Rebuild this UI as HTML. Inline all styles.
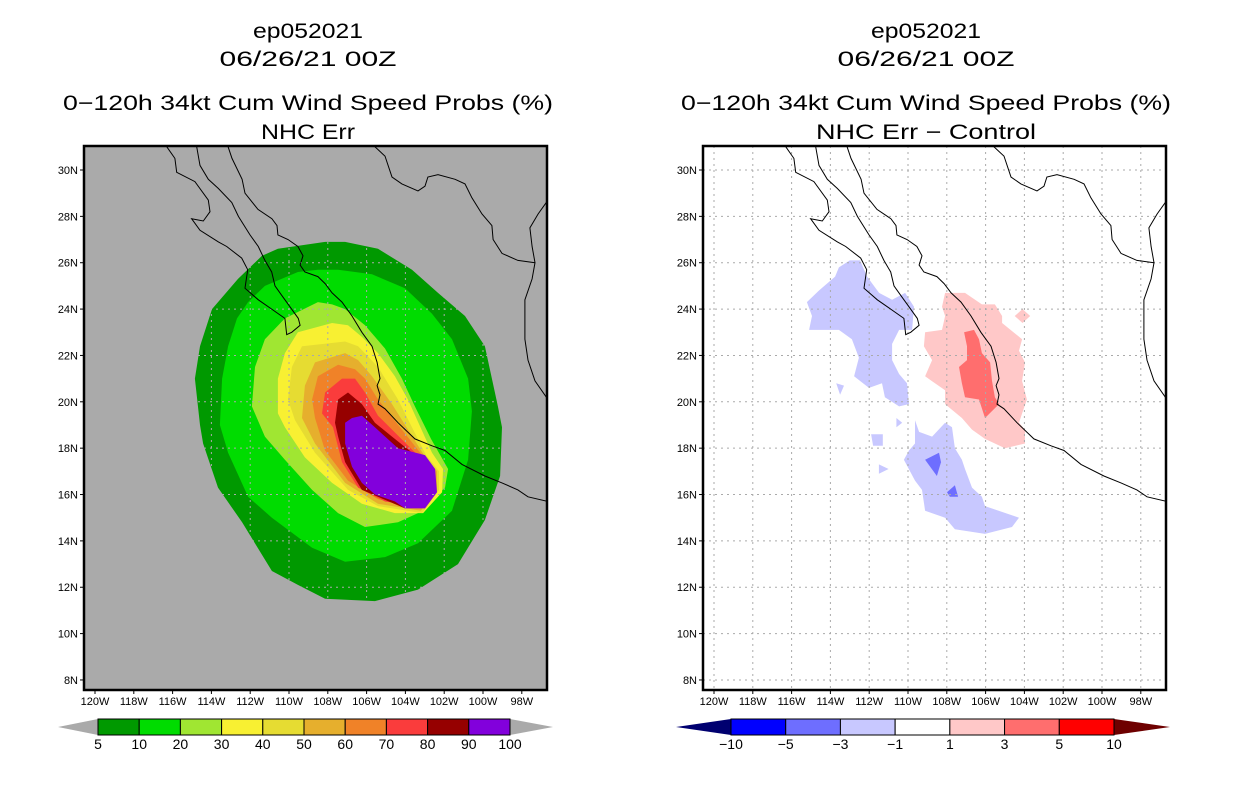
<!DOCTYPE html>
<html><head><meta charset="utf-8"><style>
html,body{margin:0;padding:0;background:#fff;}
svg{display:block;font-family:"Liberation Sans",sans-serif;}
</style></head>
<body>
<svg id="root" width="1236" height="800" viewBox="0 0 1236 800" xmlns="http://www.w3.org/2000/svg"></svg>
<script>
// ---------- data ----------
const lonTicks = [-120,-118,-116,-114,-112,-110,-108,-106,-104,-102,-100,-98];
const latTicks = [8,10,12,14,16,18,20,22,24,26,28,30];
const probLevels = [5,10,20,30,40,50,60,70,80,90,100];
const probColors = ['#009900','#00dc00','#a0e632','#f8f032','#e6dc32','#e6af2d','#f08228','#fa3c3c','#960000','#8200dc'];
const diffLevels = [-10,-5,-3,-1,1,3,5,10];
const diffColors = ['#0000ff','#6e6eff','#c8c8ff','#ffffff','#ffc8c8','#ff6e6e','#ff0000'];
const p5 = [[-108.14,26.9],[-110.57,26.6],[-111.39,26.3],[-112.63,25.3],[-113.97,24.0],[-114.59,22.4],[-114.85,21.0],[-114.59,19.0],[-114.43,18.2],[-113.66,16.3],[-112.42,14.8],[-110.88,12.7],[-109.54,12.1],[-108.14,11.5],[-105.57,11.4],[-103.35,11.9],[-101.29,13.0],[-99.90,14.9],[-99.12,16.8],[-99.02,18.9],[-99.23,19.8],[-99.90,22.4],[-100.93,23.7],[-102.32,24.7],[-103.66,25.7],[-105.41,26.6],[-107.11,26.9]];
const p10 = [[-108.51,25.7],[-109.54,25.6],[-111.24,25.0],[-112.11,24.3],[-112.68,23.6],[-113.14,22.4],[-113.45,21.0],[-113.56,19.0],[-113.14,17.8],[-112.11,15.9],[-110.88,15.0],[-108.81,13.7],[-107.11,13.1],[-105.05,13.3],[-103.35,13.9],[-101.60,15.3],[-100.77,17.5],[-100.57,19.6],[-100.77,21.0],[-101.60,22.7],[-102.63,23.8],[-104.02,24.9],[-105.72,25.5],[-107.47,25.7]];
const p20 = [[-108.51,24.3],[-110.21,23.6],[-111.24,22.7],[-111.75,21.5],[-111.91,19.8],[-111.24,18.5],[-110.21,17.5],[-108.81,16.2],[-107.47,15.2],[-106.08,14.6],[-104.38,14.8],[-103.35,15.2],[-101.96,16.3],[-101.80,17.1],[-102.68,18.4],[-103.51,19.8],[-104.18,21.0],[-105.05,22.3],[-106.08,23.3],[-107.11,24.0],[-107.78,24.2]];
const p30 = [[-107.78,23.4],[-109.54,23.0],[-110.21,22.1],[-110.57,21.0],[-110.57,19.5],[-110.21,18.9],[-109.18,17.6],[-107.78,16.5],[-106.24,15.6],[-104.54,15.2],[-103.09,15.2],[-102.11,16.1],[-102.06,17.1],[-102.63,17.8],[-103.87,20.1],[-104.54,21.1],[-105.41,22.1],[-106.24,22.8],[-106.96,23.3]];
const p40 = [[-107.11,22.6],[-109.33,22.4],[-109.85,21.5],[-110.05,20.1],[-109.69,19.2],[-108.66,17.8],[-106.96,16.2],[-105.41,15.5],[-103.14,15.2],[-102.27,16.2],[-102.27,17.0],[-102.94,17.7],[-104.38,20.1],[-105.41,21.5],[-106.44,22.4]];
const p50 = [[-107.11,22.1],[-108.66,21.7],[-109.18,20.7],[-109.33,19.3],[-108.66,18.2],[-107.11,16.5],[-105.41,15.6],[-103.20,15.3],[-102.37,16.2],[-102.37,17.0],[-103.04,17.7],[-104.69,19.9],[-105.72,21.1],[-106.44,21.8]];
const p60 = [[-107.47,21.6],[-108.51,21.1],[-108.81,20.1],[-108.66,19.3],[-108.14,17.9],[-106.96,16.6],[-105.41,15.8],[-103.25,15.4],[-102.47,16.2],[-102.47,16.9],[-103.14,17.7],[-105.41,20.1],[-106.08,21.0],[-106.60,21.4]];
const p70 = [[-107.27,21.0],[-108.14,20.4],[-108.30,19.5],[-107.73,18.9],[-107.27,17.4],[-106.44,16.3],[-105.05,15.7],[-103.40,15.5],[-102.58,16.2],[-102.58,16.9],[-103.25,17.6],[-105.41,19.4],[-106.08,20.4],[-106.60,21.0]];
const p80 = [[-106.96,20.4],[-107.47,20.1],[-107.63,19.1],[-107.47,18.5],[-107.11,17.4],[-106.24,16.2],[-104.02,15.4],[-103.51,15.6],[-102.68,16.3],[-102.68,16.9],[-103.35,17.6],[-104.69,18.5],[-105.57,19.1],[-106.24,19.9]];
const p90 = [[-106.75,19.3],[-106.24,19.4],[-105.57,18.9],[-104.38,18.0],[-102.99,17.7],[-102.47,17.1],[-102.37,16.1],[-102.99,15.4],[-104.02,15.4],[-104.54,15.7],[-105.57,16.0],[-106.24,16.5],[-106.75,17.2],[-107.11,18.2],[-107.11,19.1]];
const probContours = [p5,p10,p20,p30,p40,p50,p60,p70,p80,p90];
const dNegA = [[-113.0,26.1],[-112.47,26.1],[-112.11,25.4],[-111.49,24.7],[-110.82,24.4],[-110.15,24.7],[-109.69,24.1],[-109.79,23.1],[-110.46,23.1],[-110.82,22.5],[-110.82,21.8],[-110.46,21.2],[-110.05,20.8],[-109.95,19.9],[-110.46,19.8],[-111.19,20.2],[-111.34,20.8],[-112.01,20.6],[-112.78,21.1],[-112.53,21.9],[-112.89,22.7],[-113.56,23.1],[-114.59,23.1],[-115.10,23.1],[-114.95,23.7],[-115.21,24.3],[-114.59,24.8],[-113.76,25.4],[-113.56,25.8]];
const dNegB = [[-109.64,19.2],[-109.43,18.7],[-108.76,18.5],[-108.09,19.1],[-107.73,18.9],[-107.58,18.0],[-107.22,17.5],[-107.06,17.1],[-106.70,16.3],[-106.19,15.9],[-106.03,15.5],[-104.28,15.0],[-104.64,14.6],[-106.03,14.3],[-107.58,14.5],[-108.09,15.0],[-109.12,15.3],[-109.28,16.2],[-109.64,16.6],[-110.21,17.5],[-109.95,17.9],[-109.64,18.2]];
const dNegC = [[-113.7,20.8],[-113.3,20.7],[-113.5,20.3]];
const dNegD = [[-111.9,18.6],[-111.3,18.6],[-111.3,18.1],[-111.8,18.1]];
const dNegE = [[-111.5,17.3],[-111.0,17.1],[-111.5,16.9]];
const dNegF = [[-110.6,19.3],[-110.3,19.1],[-110.6,18.9]];
const dNeg5A = [[-109.12,17.5],[-108.40,17.8],[-108.30,17.4],[-108.51,16.8]];
const dNeg5B = [[-107.99,16.1],[-107.58,16.4],[-107.42,15.9],[-107.84,15.9]];
const dPosA = [[-108.09,24.7],[-107.06,24.7],[-106.19,24.2],[-105.52,24.2],[-105.15,23.7],[-105.15,23.4],[-104.12,22.7],[-104.28,22.2],[-103.97,21.7],[-104.12,20.9],[-103.87,20.1],[-104.12,19.5],[-104.28,19.1],[-103.97,18.8],[-103.97,18.2],[-105.0,18.0],[-106.03,18.4],[-106.70,18.8],[-107.22,19.3],[-108.09,19.9],[-108.09,20.5],[-108.61,20.8],[-109.12,21.1],[-108.76,21.8],[-109.18,22.4],[-109.12,23.0],[-108.25,23.1],[-108.09,23.7],[-108.25,24.1]];
const dPosB = [[-104.1,24.0],[-103.7,23.7],[-104.1,23.4],[-104.5,23.7]];
const dPos3 = [[-107.11,23.0],[-106.60,23.1],[-106.34,22.7],[-106.19,22.1],[-105.77,21.7],[-105.67,20.9],[-105.52,20.2],[-105.31,19.9],[-106.03,19.3],[-106.34,20.1],[-107.06,20.2],[-107.22,20.8],[-107.37,21.5],[-106.96,21.8],[-106.96,22.4]];
const coastMainland = [[-113.14,31.0],[-112.94,30.5],[-112.42,29.6],[-112.27,29.0],[-111.60,28.3],[-110.88,27.9],[-110.62,27.6],[-110.57,27.2],[-110.05,27.0],[-109.54,26.7],[-109.28,26.3],[-109.43,25.9],[-109.18,25.6],[-108.51,25.4],[-108.14,25.1],[-107.78,24.7],[-107.27,24.3],[-106.75,23.7],[-106.24,23.0],[-105.72,22.4],[-105.46,21.7],[-105.31,21.0],[-105.46,20.7],[-105.31,20.3],[-105.41,19.9],[-105.05,19.7],[-104.38,19.1],[-103.51,18.4],[-102.63,18.1],[-101.96,17.9],[-101.08,17.3],[-99.90,16.8],[-99.02,16.5],[-98.20,16.2],[-97.68,15.9],[-96.65,15.7]];
const coastBaja = [[-116.30,31.0],[-115.88,30.5],[-115.79,29.9],[-114.85,29.5],[-114.16,28.7],[-114.07,28.2],[-114.42,27.8],[-115.02,27.9],[-114.59,27.4],[-113.64,26.9],[-113.21,26.7],[-112.44,26.2],[-112.13,25.7],[-112.27,24.9],[-111.58,24.4],[-110.89,24.0],[-110.21,23.6],[-110.12,22.9],[-109.86,23.0],[-109.43,23.3],[-109.52,23.6],[-109.95,24.1],[-110.38,24.6],[-110.72,25.0],[-110.89,25.6],[-111.24,26.1],[-111.58,26.7],[-112.01,27.2],[-112.61,28.0],[-112.95,28.6],[-113.64,29.2],[-114.16,29.6],[-114.59,30.2],[-114.76,31.0]];
const coastBorder = [[-105.57,31.0],[-105.05,30.6],[-104.69,29.7],[-104.18,29.4],[-103.35,29.1],[-102.99,29.3],[-102.84,29.7],[-102.32,29.8],[-101.44,29.6],[-100.93,29.4],[-100.57,28.8],[-100.05,28.1],[-99.54,27.6],[-99.48,27.0],[-99.02,26.4],[-98.20,26.1],[-97.32,26.0]];
const coastGulf = [[-96.65,28.7],[-97.16,28.1],[-97.58,27.5],[-97.47,26.7],[-97.32,26.0],[-97.47,25.3],[-97.84,24.4],[-97.84,22.7],[-97.68,21.8],[-97.32,20.9],[-96.65,20.1]];
const coastlines = [coastMainland, coastBaja, coastBorder, coastGulf];

// ---------- helpers ----------
const NS='http://www.w3.org/2000/svg';
const root=document.getElementById('root');
function mk(tag,attrs,parent){const e=document.createElementNS(NS,tag);for(const k in attrs)e.setAttribute(k,attrs[k]);(parent||root).appendChild(e);return e;}
const PW=463, PH=544, PT=146;
function xScale(left,lon){return left+11+(lon+120)*19.4;}
function yScale(lat){return 170+(30-lat)*23.18;}
function pts(left,poly){return poly.map(p=>xScale(left,p[0]).toFixed(1)+','+yScale(p[1]).toFixed(1)).join(' ');}

function panel(left,bg,name){
  const g=mk('g',{});
  
  
  const cid='clip'+left;
  const cp=mk('clipPath',{id:cid},g);
  mk('rect',{x:left,y:PT,width:PW,height:PH},cp);
  const bgR=mk('rect',{x:left,y:PT,width:PW,height:PH,fill:bg},g);
  
  
  const inner=mk('g',{'clip-path':'url(#'+cid+')'},g);
  return {g,inner};
}
function drawGrid(left,inner,col){
  lonTicks.forEach(lon=>{const l=mk('line',{x1:xScale(left,lon),x2:xScale(left,lon),y1:PT,y2:PT+PH,stroke:col,'stroke-width':1,'stroke-dasharray':'2,4'},inner);
    
    });
  latTicks.forEach(lat=>{const l=mk('line',{x1:left,x2:left+PW,y1:yScale(lat),y2:yScale(lat),stroke:col,'stroke-width':1,'stroke-dasharray':'2,4'},inner);
    
    });
}
function drawCoast(left,inner){
  coastlines.forEach(c=>{const p=mk('polyline',{points:pts(left,c),fill:'none',stroke:'#000','stroke-width':1},inner);
    
    });
}
function drawAxes(g,left){
  const b=mk('rect',{x:left,y:PT,width:PW,height:PH,fill:'none',stroke:'#000','stroke-width':2.5},g);
  
  
  lonTicks.forEach(lon=>{const x=xScale(left,lon);
    mk('line',{x1:x,x2:x,y1:PT+PH,y2:PT+PH+4,stroke:'#000'},g);
    const t=mk('text',{x:x,y:PT+PH+15,'font-size':11,'text-anchor':'middle',fill:'#000'},g);
    t.textContent=(-lon)+'W';
    
    });
  latTicks.forEach(lat=>{const y=yScale(lat);
    mk('line',{x1:left-4,x2:left,y1:y,y2:y,stroke:'#000'},g);
    const t=mk('text',{x:left-6,y:y+4,'font-size':11,'text-anchor':'end',fill:'#000'},g);
    t.textContent=lat+'N';
    
    });
}
function titles(cx,lines,ws){
  const ys=[38,66,110,139];
  lines.forEach((s,i)=>{const a={x:cx,y:ys[i],'font-size':21,'text-anchor':'middle',fill:'#000',textLength:ws[i],lengthAdjust:'spacingAndGlyphs'};
    const t=mk('text',a);t.textContent=s;
    
    });
}

// ---------- left panel ----------
titles(308,['ep052021','06/26/21 00Z','0\u2212120h 34kt Cum Wind Speed Probs (%)','NHC Err'],[110,177,490,94]);
const L=panel(84,'#aaaaaa','probability-map');
probContours.forEach((poly,i)=>{const p=mk('polygon',{points:pts(84,poly),fill:probColors[i]},L.inner);
  
  });
drawGrid(84,L.inner,'#aaaaaa');
drawCoast(84,L.inner);
drawAxes(L.g,84);

// ---------- right panel ----------
titles(926,['ep052021','06/26/21 00Z','0\u2212120h 34kt Cum Wind Speed Probs (%)','NHC Err \u2212 Control'],[110,177,490,220]);
const R=panel(703,'#ffffff','difference-map');
const diffShapes=[[dNegA,2],[dNegB,2],[dNegC,2],[dNegD,2],[dNegE,2],[dNegF,2],[dNeg5A,1],[dNeg5B,1],[dPosA,4],[dPosB,4],[dPos3,5]];
diffShapes.forEach(s=>{const p=mk('polygon',{points:pts(703,s[0]),fill:diffColors[s[1]]},R.inner);
  
  });
drawGrid(703,R.inner,'#aaaaaa');
drawCoast(703,R.inner);
drawAxes(R.g,703);

// ---------- colorbars ----------
function colorbar(x0,x1,y0,h,levels,colors,lowCol,highCol,tipL,tipR,name){
  const g=mk('g',{});
  
  
  const n=colors.length, w=(x1-x0)/n;
  const lt=mk('polygon',{points:`${tipL},${y0+h/2} ${x0},${y0} ${x0},${y0+h}`,fill:lowCol},g);
  
  
  const rt=mk('polygon',{points:`${tipR},${y0+h/2} ${x1},${y0} ${x1},${y0+h}`,fill:highCol},g);
  
  
  colors.forEach((c,i)=>{const r=mk('rect',{x:x0+i*w,y:y0,width:w,height:h,fill:c,stroke:'#000','stroke-width':1},g);
    
    });
  levels.forEach((v,i)=>{const t=mk('text',{x:x0+i*w,y:y0+h+14,'font-size':14,'text-anchor':'middle',fill:'#000'},g);
    t.textContent=String(v).replace('-','\u2212');
    
    });
}
colorbar(98,510,719,16,probLevels,probColors,'#aaaaaa','#aaaaaa',58,553,'probability-colorbar');
colorbar(731,1114,719,16,diffLevels,diffColors,'#000070','#6e0000',676,1170,'difference-colorbar');
</script>
</body></html>
